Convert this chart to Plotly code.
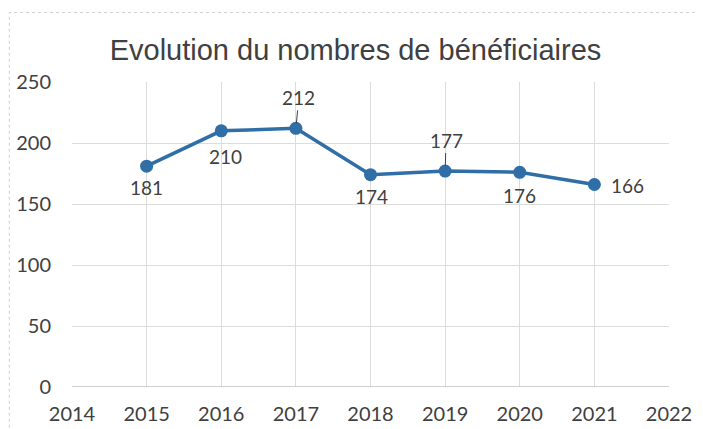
import plotly.graph_objects as go

years = [2015, 2016, 2017, 2018, 2019, 2020, 2021]
values = [181, 210, 212, 174, 177, 176, 166]
# label placement per point: (dx, dy, leader)
label_pos = [(0, 21, False), (4, 26, False), (3, -31, True), (1, 22, False),
             (1, -31, True), (0, 23, False), (33, 1, False)]

title = "Evolution du nombres de bénéficiaires"
line_color = "#2F6EA6"
text_color = "#404040"
font_fam = "Lato, Liberation Sans, sans-serif"

fig = go.Figure()
fig.add_trace(go.Scatter(
    x=years, y=values, mode="lines+markers",
    line=dict(color=line_color, width=3.5),
    marker=dict(size=13, color=line_color),
    hoverinfo="skip", showlegend=False,
))

annotations = []
for x, v, (dx, dy, leader) in zip(years, values, label_pos):
    if leader:
        annotations.append(dict(
            x=x, y=v, text=str(v), showarrow=True, ax=dx, ay=dy,
            arrowhead=0, arrowwidth=1, arrowcolor=text_color, standoff=5,
            font=dict(family=font_fam, size=19, color=text_color),
        ))
    else:
        annotations.append(dict(
            x=x, y=v, text=str(v), showarrow=False, xshift=dx, yshift=-dy,
            font=dict(family=font_fam, size=19, color=text_color),
        ))

fig.update_layout(
    width=695, height=421,
    margin=dict(l=64, r=34, t=74, b=42, autoexpand=False),
    paper_bgcolor="white", plot_bgcolor="white",
    title=dict(text=title, x=0.5, xanchor="center", y=0.90, yanchor="middle",
               font=dict(family="Liberation Sans, Arial, sans-serif", size=29, color=text_color)),
    annotations=annotations,
    xaxis=dict(range=[2014, 2022], dtick=1, tick0=2014, showgrid=True,
               gridcolor="#dcdcdc", gridwidth=1, zeroline=False, showline=False,
               ticks="", ticklabelstandoff=13, automargin=False,
               tickfont=dict(family=font_fam, size=20, color=text_color)),
    yaxis=dict(range=[0, 250], dtick=50, showgrid=True, gridcolor="#dcdcdc",
               gridwidth=1, zeroline=False, showline=False, ticks="",
               ticklabelstandoff=20, automargin=False,
               tickfont=dict(family=font_fam, size=20, color=text_color)),
    shapes=[
        dict(type="line", xref="x", yref="y", x0=2014, x1=2022, y0=0, y1=0,
             line=dict(color="#bfbfbf", width=1.5)),
        dict(type="rect", xref="paper", yref="paper", x0=-0.105, x1=1.052,
             y0=-0.15, y1=1.228, line=dict(color="#cfcfcf", width=1, dash="dot")),
    ],
)

fig.write_html("out.html")
